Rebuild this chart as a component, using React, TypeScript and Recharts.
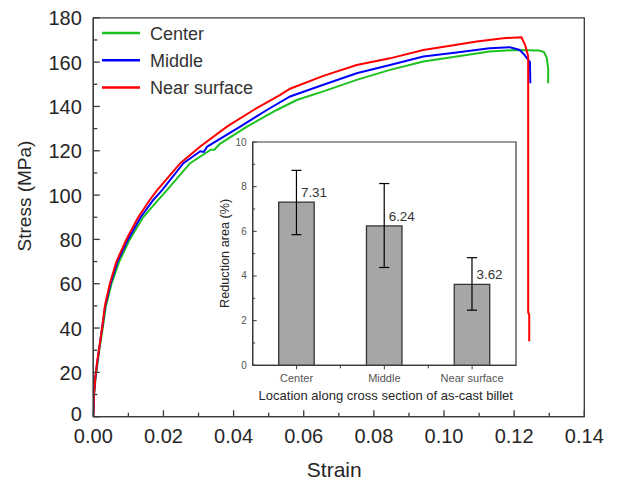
import React from 'react';
import {
  LineChart, Line, XAxis, YAxis, Legend, ReferenceArea,
  BarChart, Bar, ErrorBar, LabelList,
} from 'recharts';

// ---------- main stress-strain data ----------
const centerStrain = [0, 0.0002, 0.0007, 0.0017, 0.0027, 0.0036, 0.0052, 0.0074, 0.0104, 0.0142, 0.0185, 0.021, 0.0276, 0.0335, 0.0345, 0.036, 0.0438, 0.0523, 0.058, 0.0656, 0.0751, 0.0846, 0.0941, 0.1036, 0.113, 0.1207, 0.127, 0.1285, 0.1293, 0.1297, 0.1297];
const centerStress = [0, 10, 18, 30, 40, 50, 60, 70, 80, 90, 97.8, 102.2, 114.4, 120.5, 120.5, 123, 130.9, 138.4, 142.9, 146.8, 152, 156.5, 160.3, 162.5, 164.8, 165.5, 165.3, 164.5, 162, 157, 150.5];

const middleStrain = [0, 0.0002, 0.0006, 0.0016, 0.0025, 0.0034, 0.0049, 0.0069, 0.0099, 0.0135, 0.0171, 0.0196, 0.0257, 0.0305, 0.0315, 0.0325, 0.0419, 0.0495, 0.0561, 0.0656, 0.0751, 0.0846, 0.0941, 0.1036, 0.113, 0.1188, 0.1216, 0.123, 0.1245, 0.1246];
const middleStress = [0, 10, 18, 30, 40, 50, 60, 70, 80, 90, 97.8, 102.2, 114.4, 119.8, 119.5, 121.9, 130.9, 138.4, 144.5, 149.8, 155, 158.7, 162.5, 164.3, 166.3, 166.7, 165.5, 163.2, 160, 150.5];

const nearStrain = [0, 0.0001, 0.0002, 0.0006, 0.0011, 0.0016, 0.0025, 0.0033, 0.0047, 0.0066, 0.0095, 0.0128, 0.0161, 0.0181, 0.0248, 0.0305, 0.0381, 0.0457, 0.0533, 0.0561, 0.0656, 0.0751, 0.0846, 0.0941, 0.1036, 0.1093, 0.1169, 0.1221, 0.1231, 0.124, 0.124, 0.1243, 0.1243];
const nearStress = [0, 5, 10.5, 18, 25, 30, 40, 50, 60, 70, 80.2, 90, 97.8, 102, 114.4, 121.9, 130.9, 138.4, 145.2, 148, 153.8, 158.7, 161.7, 165.5, 167.8, 169.3, 170.8, 171.2, 167.8, 162.6, 47, 46, 34];

const seriesNames = ['Center', 'Middle', 'Near surface'];
const seriesColors = ['#1ec21e', '#0000ff', '#ff0000'];

const xTicks = [0, 0.01, 0.02, 0.03, 0.04, 0.05, 0.06, 0.07, 0.08, 0.09, 0.1, 0.11, 0.12, 0.13, 0.14];
const yTicks = [0, 10, 20, 30, 40, 50, 60, 70, 80, 90, 100, 110, 120, 130, 140, 150, 160, 170, 180];

// ---------- inset bar data ----------
const locations = ['Center', 'Middle', 'Near surface'];
const reduction = [7.31, 6.24, 3.62];
const errLow = [1.46, 1.86, 1.15];
const errHigh = [1.42, 1.9, 1.2];
const insetYTicks = [0, 1, 2, 3, 4, 5, 6, 7, 8, 9, 10];

const zip = (xs: number[], ys: number[]) => xs.map((x, i) => ({ strain: x, stress: ys[i] }));
const lineData = [zip(centerStrain, centerStress), zip(middleStrain, middleStress), zip(nearStrain, nearStress)];
const barData = locations.map((name, i) => ({ name, value: reduction[i], err: [errLow[i], errHigh[i]] }));

const FONT = '"Liberation Sans", Arial, sans-serif';
const AX = '#3a3a3a';

const MainXTick = (props: any) => {
  const { x, y, payload } = props;
  const v = payload.value as number;
  const major = Math.round(v * 100) % 2 === 0;
  return (
    <g>
      <line x1={x} x2={x} y1={y} y2={y - (major ? 6.5 : 4)} stroke={AX} strokeWidth={1.3} />
      {major && (
        <text x={x} y={y + 26.3} textAnchor="middle" fontSize={20} fontFamily={FONT} fill="#262626">
          {v.toFixed(2)}
        </text>
      )}
    </g>
  );
};

const MainYTick = (props: any) => {
  const { x, y, payload } = props;
  const v = payload.value as number;
  const major = v % 20 === 0;
  return (
    <g>
      <line x1={x} x2={x + (major ? 6.5 : 4)} y1={y} y2={y} stroke={AX} strokeWidth={1.3} />
      {major && (
        <text x={x - 11.5} y={y + (v === 0 ? 3.8 : 7.5)} textAnchor="end" fontSize={20} fontFamily={FONT} fill="#262626">
          {v}
        </text>
      )}
    </g>
  );
};

const InsetYTick = (props: any) => {
  const { x, y, payload } = props;
  const v = payload.value as number;
  const major = v % 2 === 0;
  return (
    <g>
      <line x1={x} x2={x + (major ? 4 : 2.5)} y1={y} y2={y} stroke={AX} strokeWidth={1} />
      {major && (
        <text x={x - 6} y={y + 3.5} textAnchor="end" fontSize={10} fontFamily={FONT} fill="#555">
          {v}
        </text>
      )}
    </g>
  );
};

const INSET_BAND = 263.3 / 3;
const InsetXTick = (props: any) => {
  const { x, y, payload, index } = props;
  return (
    <g>
      <line x1={x} x2={x} y1={y} y2={y + 4} stroke={AX} strokeWidth={1} />
      {index < locations.length - 1 && (
        <line x1={x + INSET_BAND / 2} x2={x + INSET_BAND / 2} y1={y} y2={y + 3} stroke={AX} strokeWidth={1} />
      )}
      <text x={x} y={y + 16.7} textAnchor="middle" fontSize={11} fontFamily={FONT} fill="#555">
        {payload.value}
      </text>
    </g>
  );
};

const ValueLabel = (props: any) => {
  const { x, y, width, value } = props;
  return (
    <text x={x + width / 2 + 4.5} y={y - 5} fontSize={13.4} fontFamily={FONT} fill="#333">
      {Number(value).toFixed(2)}
    </text>
  );
};

const LegendContent = (props: any) => {
  const { payload } = props;
  return (
    <svg width={200} height={90} style={{ display: 'block' }}>
      {(payload || []).map((p: any, i: number) => {
        const yy = 10 + i * 27.3;
        return (
          <g key={i}>
            <line x1={0} x2={38} y1={yy} y2={yy} stroke={p.color} strokeWidth={2.5} />
            <text x={48} y={yy + 6.6} fontSize={18} fontFamily={FONT} fill="#333">
              {p.value}
            </text>
          </g>
        );
      })}
    </svg>
  );
};

export default function App() {
  return (
    <div style={{ position: 'relative', width: 606, height: 475, fontFamily: FONT }}>
      <LineChart
        width={606}
        height={475}
        margin={{ top: 9.8, right: 29.7, left: 0, bottom: 16.3 }}
      >
        <XAxis
          dataKey="strain"
          type="number"
          domain={[0, 0.14]}
          ticks={xTicks}
          interval={0}
          allowDataOverflow
          height={50}
          tickSize={0}
          tickMargin={0}
          tickLine={false}
          tick={<MainXTick />}
          axisLine={{ stroke: AX, strokeWidth: 1.3 }}
          label={() => (
            <text x={326.3} y={469.3} textAnchor="middle" fontSize={21} fontFamily={FONT} fill="#262626">
              Strain
            </text>
          )}
        />
        <YAxis
          dataKey="stress"
          type="number"
          domain={[0, 180]}
          ticks={yTicks}
          interval={0}
          allowDataOverflow
          width={85.3}
          tickSize={0}
          tickMargin={0}
          tickLine={false}
          tick={<MainYTick />}
          axisLine={{ stroke: AX, strokeWidth: 1.3 }}
          label={() => (
            <text
              x={22.5}
              y={188}
              textAnchor="middle"
              fontSize={19}
              fontFamily={FONT}
              fill="#262626"
              transform="rotate(-90 22.5 188)"
            >
              Stress (MPa)
            </text>
          )}
        />
        <ReferenceArea y1={0} y2={180} fill="none" stroke={AX} strokeWidth={1.3} ifOverflow="visible" />
        {lineData.map((d, i) => (
          <Line
            key={seriesNames[i]}
            data={d}
            dataKey="stress"
            name={seriesNames[i]}
            stroke={seriesColors[i]}
            strokeWidth={2}
            dot={false}
            activeDot={false}
            type="linear"
            isAnimationActive={false}
          />
        ))}
        <Legend
          layout="vertical"
          align="center"
          verticalAlign="middle"
          content={<LegendContent />}
          wrapperStyle={{ left: 94, top: 14.7, width: 200 }}
        />
      </LineChart>

      <div style={{ position: 'absolute', left: 192, top: 122, width: 330, height: 280 }}>
        <BarChart
          width={330}
          height={280}
          data={barData}
          margin={{ top: 12, right: 14, left: 0, bottom: 14.7 }}
        >
          <XAxis
            dataKey="name"
            height={30}
            tickSize={0}
            tickMargin={0}
            tickLine={false}
            interval={0}
            tick={<InsetXTick />}
            axisLine={{ stroke: AX, strokeWidth: 1.2 }}
            label={() => (
              <text x={185.8} y={270} textAnchor="middle" fontSize={13} fontFamily={FONT} fill="#262626">
                Location along cross section of as-cast billet
              </text>
            )}
          />
          <YAxis
            type="number"
            domain={[0, 10]}
            ticks={insetYTicks}
            interval={0}
            allowDataOverflow
            width={52.7}
            tickSize={0}
            tickMargin={0}
            tickLine={false}
            tick={<InsetYTick />}
            axisLine={{ stroke: AX, strokeWidth: 1.2 }}
            label={() => (
              <text
                x={29.5}
                y={123.3}
                textAnchor="middle"
                fontSize={12.7}
                fontFamily={FONT}
                fill="#262626"
                transform="rotate(-90 29.5 123.3)"
              >
                Reduction area (%)
              </text>
            )}
          />
          <ReferenceArea y1={0} y2={10} fill="none" stroke={AX} strokeWidth={1.2} ifOverflow="visible" />
          <Bar dataKey="value" fill="#a6a6a6" stroke="#333" strokeWidth={1.3} barSize={35.5} isAnimationActive={false}>
            <ErrorBar dataKey="err" width={5} stroke="#000" strokeWidth={1.2} direction="y" />
            <LabelList dataKey="value" content={<ValueLabel />} />
          </Bar>
        </BarChart>
      </div>
    </div>
  );
}
